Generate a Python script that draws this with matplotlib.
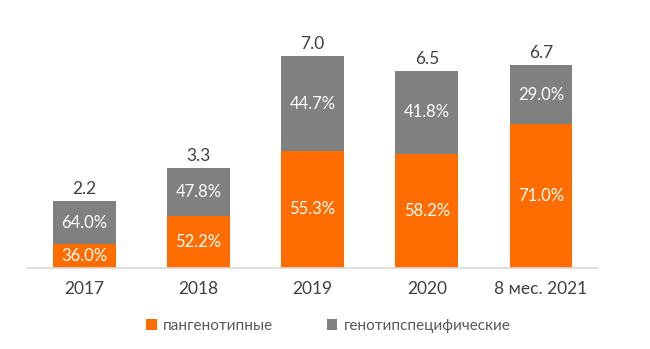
import matplotlib.pyplot as plt
import numpy as np

plt.rcParams['font.family'] = ['Lato', 'DejaVu Sans']

years = ['2017', '2018', '2019', '2020', '8 мес. 2021']
totals = [2.2, 3.3, 7.0, 6.5, 6.7]
pan_share = [36.0, 52.2, 55.3, 58.2, 71.0]
geno_share = [64.0, 47.8, 44.7, 41.8, 29.0]

orange = '#FF6D00'
gray = '#808080'

totals = np.array(totals)
pan = totals * np.array(pan_share) / 100
geno = totals * np.array(geno_share) / 100
x = np.arange(len(years))

fig = plt.figure(figsize=(6.5, 3.49), dpi=100)
ax = fig.add_axes([0.042, 0.232, 0.878, 0.711])

b1 = ax.bar(x, pan, width=0.55, color=orange, label='пангенотипные')
b2 = ax.bar(x, geno, width=0.55, bottom=pan, color=gray, label='генотипспецифические')

for i in range(len(years)):
    ax.text(x[i], pan[i] / 2, f'{pan_share[i]:.1f}%', ha='center', va='center',
            color='white', fontsize=12)
    ax.text(x[i], pan[i] + geno[i] / 2, f'{geno_share[i]:.1f}%', ha='center',
            va='center', color='white', fontsize=12)
    ax.text(x[i], totals[i] + 0.15, f'{totals[i]:.1f}', ha='center', va='bottom',
            color='#404040', fontsize=12.5)

ax.set_xlim(-0.5, len(years) - 0.5)
ax.set_ylim(0, 8.2)
ax.set_xticks(x)
ax.set_xticklabels(years, fontsize=12.5, color='#404040')
ax.tick_params(axis='x', length=0, pad=9)
ax.set_yticks([])
for s in ['top', 'right', 'left']:
    ax.spines[s].set_visible(False)
ax.spines['bottom'].set_color('#D9D9D9')
ax.spines['bottom'].set_linewidth(1.2)

fig.legend(handles=[b1, b2], loc='center', bbox_to_anchor=(0.505, 0.067), ncol=2,
           frameon=False, fontsize=11, handlelength=0.7, handleheight=0.7,
           handletextpad=0.4, columnspacing=3.5, labelcolor='#595959')

fig.savefig('out.png', dpi=100)
